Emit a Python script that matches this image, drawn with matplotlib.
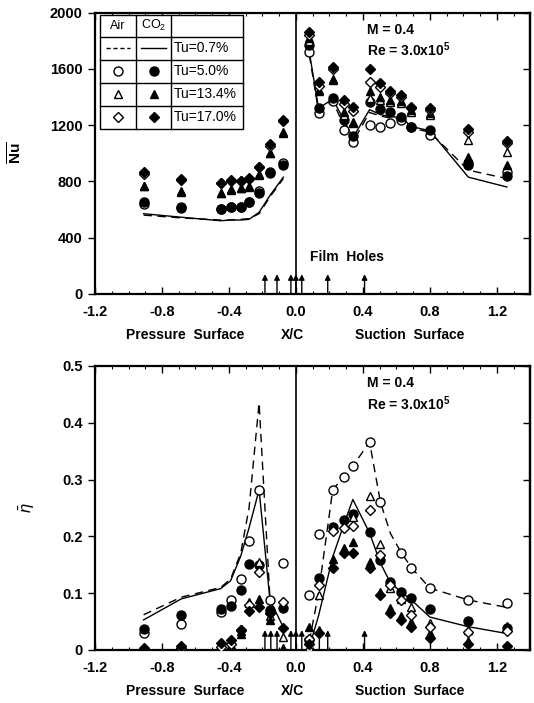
import numpy as np
import matplotlib
matplotlib.use('Agg')
import matplotlib.pyplot as plt
from matplotlib.ticker import MultipleLocator

plt.rcParams['font.family'] = ['Liberation Sans', 'DejaVu Sans']
plt.rcParams['mathtext.fontset'] = 'custom'
plt.rcParams['mathtext.rm'] = 'Liberation Sans'
plt.rcParams['mathtext.bf'] = 'Liberation Sans:bold'
plt.rcParams['mathtext.it'] = 'Liberation Sans:italic'

# positions des points de mesure (X/C)
x_pres = [-0.91, -0.685, -0.45, -0.39, -0.33, -0.28, -0.22, -0.155, -0.075]
x_suct = [0.08, 0.135, 0.22, 0.285, 0.34, 0.44, 0.505, 0.565, 0.63, 0.69, 0.8, 1.03, 1.26]

# --- Nu moyen (haut) ---
nu_air_05_p = [640, 615, 600, 615, 615, 650, 730, 870, 930]
nu_co2_05_p = [650, 610, 600, 620, 620, 655, 720, 860, 915]
nu_air_134_p = [770, 735, 715, 745, 750, 760, 850, 1005, 1150]
nu_co2_134_p = [765, 725, 720, 740, 750, 765, 845, 1000, 1145]
nu_air_17_p = [855, 810, 785, 800, 800, 820, 900, 1050, 1230]
nu_co2_17_p = [865, 820, 790, 810, 805, 825, 905, 1065, 1240]
nu_air_07_p = [560, 540, 525, 525, 530, 535, 570, 690, 820]
nu_co2_07_p = [570, 545, 520, 525, 525, 530, 580, 700, 830]

nu_air_05_s = [1720, 1285, 1370, 1165, 1080, 1200, 1190, 1215, 1235, 1185, 1130, 930, 870]
nu_co2_05_s = [1770, 1325, 1390, 1240, 1120, 1365, 1315, 1295, 1260, 1190, 1165, 915, 835]
nu_air_134_s = [1800, 1440, 1520, 1275, 1215, 1395, 1380, 1365, 1355, 1295, 1275, 1095, 1010]
nu_co2_134_s = [1820, 1450, 1530, 1290, 1225, 1440, 1400, 1380, 1370, 1305, 1285, 975, 920]
nu_air_17_s = [1840, 1480, 1600, 1350, 1300, 1510, 1470, 1430, 1400, 1320, 1310, 1150, 1075]
nu_co2_17_s = [1865, 1510, 1615, 1380, 1330, 1600, 1500, 1445, 1415, 1330, 1320, 1170, 1090]
nu_air_07_s = [1700, 1300, 1370, 1200, 1080, 1290, 1265, 1250, 1245, 1180, 1150, 880, 820]
nu_co2_07_s = [1720, 1320, 1385, 1240, 1110, 1310, 1275, 1260, 1255, 1190, 1160, 830, 760]

# --- efficacite (bas) ---
eta_air_05_p = [0.030, 0.046, 0.067, 0.088, 0.125, 0.192, 0.282, 0.088, 0.153]
eta_co2_05_p = [0.037, 0.062, 0.073, 0.078, 0.106, 0.151, 0.150, 0.070, 0.074]
eta_air_134_p = [0.002, 0.003, 0.005, 0.008, 0.033, 0.083, 0.155, 0.060, 0.023]
eta_co2_134_p = [0.003, 0.003, 0.005, 0.008, 0.028, 0.085, 0.090, 0.053, 0.003]
eta_air_17_p = [0.002, 0.004, 0.006, 0.010, 0.036, 0.080, 0.137, 0.065, 0.085]
eta_co2_17_p = [0.004, 0.007, 0.012, 0.017, 0.036, 0.069, 0.075, 0.065, 0.039]
eta_air_07_p = [0.062, 0.093, 0.110, 0.125, 0.170, 0.250, 0.435, 0.090, np.nan]
eta_co2_07_p = [0.053, 0.090, 0.108, 0.122, 0.165, 0.215, 0.282, 0.088, 0.040]

eta_air_05_s = [0.097, 0.204, 0.282, 0.305, 0.324, 0.366, 0.260, np.nan, 0.171, 0.145, 0.109, 0.088, 0.083]
eta_co2_05_s = [0.018, 0.126, 0.217, 0.229, 0.240, 0.208, 0.158, 0.120, 0.102, 0.091, 0.072, 0.051, 0.038]
eta_air_134_s = [0.005, 0.097, 0.215, 0.220, 0.235, 0.271, 0.187, 0.110, 0.090, 0.076, 0.047, 0.035, 0.038]
eta_co2_134_s = [0.040, 0.035, 0.160, 0.180, 0.190, 0.155, 0.102, 0.074, 0.060, 0.050, 0.030, 0.015, 0.042]
eta_air_17_s = [0.020, 0.114, 0.210, 0.215, 0.218, 0.246, 0.167, 0.114, 0.088, 0.062, 0.041, 0.032, 0.033]
eta_co2_17_s = [0.010, 0.030, 0.144, 0.170, 0.170, 0.144, 0.097, 0.065, 0.053, 0.041, 0.021, 0.010, 0.007]
eta_air_07_s = [0.015, 0.100, 0.282, 0.305, 0.324, 0.366, 0.260, 0.205, 0.171, 0.145, 0.109, 0.088, 0.075]
eta_co2_07_s = [0.005, 0.060, 0.164, 0.220, 0.265, 0.206, 0.153, 0.118, 0.102, 0.088, 0.058, 0.041, 0.029]

# trous de film
holes_top = [-0.185, -0.113, -0.03, 0.0, 0.035, 0.19, 0.41]
holes_bot = [-0.185, -0.15, -0.113, -0.03, 0.0, 0.035, 0.14, 0.19, 0.41]

x_ticks = [-1.2, -0.8, -0.4, 0.0, 0.4, 0.8, 1.2]
x_ticklabels = ['-1.2', '-0.8', '-0.4', '0.0', '0.4', '0.8', '1.2']

series_style = [  # (marker, rempli)
    ('o', False), ('o', True), ('^', False), ('^', True), ('D', False), ('D', True)]
msize = {'o': 6.5, '^': 6.0, 'D': 5.0}


def draw_points(ax, xs, sets):
    for (m, filled), ys in zip(series_style, sets):
        ax.plot(xs, ys, ls='none', marker=m, ms=msize[m], mew=1,
                mfc='black' if filled else 'white', mec='black', zorder=4)


def style_axes(ax, ylim, yticks, yticklabels, hole_len, holes):
    ax.set_xlim(-1.2, 1.4)
    ax.set_ylim(*ylim)
    ax.axvline(0, color='black', lw=1.2, zorder=2)
    for s in ax.spines.values():
        s.set_linewidth(1.6)
    ax.set_xticks(x_ticks)
    ax.set_xticklabels(x_ticklabels, fontsize=10.5, fontweight='bold')
    ax.set_yticks(yticks)
    ax.set_yticklabels(yticklabels, fontsize=10.5, fontweight='bold')
    ax.xaxis.set_minor_locator(MultipleLocator(0.1))
    ax.tick_params(axis='x', which='major', direction='in', top=True, length=5, width=1, pad=8)
    ax.tick_params(axis='x', which='minor', direction='in', top=True, length=2, width=0.8)
    ax.tick_params(axis='y', which='major', direction='out', length=5, width=1, pad=4)
    sec = ax.secondary_yaxis('right')
    sec.set_yticks(yticks)
    sec.tick_params(direction='in', length=5, width=1, labelright=False)
    sec.spines['right'].set_linewidth(1.6)
    for h in holes:
        ax.annotate('', xy=(h, hole_len), xytext=(h, 0),
                    arrowprops=dict(arrowstyle='-|>', color='black', lw=1, mutation_scale=8,
                                    shrinkA=0, shrinkB=0), zorder=5)
    tr = ax.get_xaxis_transform()
    ax.text(-0.66, -0.12, 'Pressure  Surface', transform=tr, ha='center', va='top',
            fontsize=10, fontweight='bold')
    ax.text(-0.02, -0.12, 'X/C', transform=tr, ha='center', va='top', fontsize=10, fontweight='bold')
    ax.text(0.68, -0.12, 'Suction  Surface', transform=tr, ha='center', va='top',
            fontsize=10, fontweight='bold')
    ax.text(0.625, 0.94, 'M = 0.4', transform=ax.transAxes, fontsize=10, fontweight='bold', va='center')
    ax.text(0.625, 0.868, r'Re = 3.0x10$^{\mathbf{5}}$', transform=ax.transAxes, fontsize=10,
            fontweight='bold', va='center')


def draw_legend(ax):
    t = ax.transAxes
    xl, x1, x2, xr = 0.0115, 0.094, 0.175, 0.340
    rows = [0.993, 0.915, 0.833, 0.751, 0.669, 0.587]
    kw = dict(color='black', lw=1, transform=t, clip_on=False, zorder=6)
    ax.add_patch(plt.Rectangle((xl, rows[-1]), xr - xl, rows[0] - rows[-1], facecolor='white',
                               edgecolor='black', lw=1, transform=t, zorder=5))
    for r in rows[1:-1]:
        ax.plot([xl, xr], [r, r], **kw)
    ax.plot([x1, x1], [rows[0], rows[-1]], **kw)
    ax.plot([x2, x2], [rows[0], rows[-1]], **kw)
    cy = [(rows[i] + rows[i + 1]) / 2 for i in range(5)]
    ca, cc = (xl + x1) / 2, (x1 + x2) / 2
    ax.text(ca, cy[0], 'Air', transform=t, ha='center', va='center', fontsize=9, zorder=7)
    ax.text(cc, cy[0], 'CO$_2$', transform=t, ha='center', va='center', fontsize=9, zorder=7)
    ax.plot([ca - 0.028, ca + 0.028], [cy[1], cy[1]], ls=(0, (3, 2)), **kw)
    ax.plot([cc - 0.028, cc + 0.028], [cy[1], cy[1]], **kw)
    labels = ['Tu=0.7%', 'Tu=5.0%', 'Tu=13.4%', 'Tu=17.0%']
    for i, lab in enumerate(labels):
        ax.text(x2 + 0.006, cy[i + 1], lab, transform=t, ha='left', va='center', fontsize=10, zorder=7)
    for i, m in enumerate(['o', '^', 'D']):
        ax.plot([ca], [cy[i + 2]], marker=m, ms=msize[m], mfc='white', mec='black', mew=1,
                transform=t, clip_on=False, zorder=7)
        ax.plot([cc], [cy[i + 2]], marker=m, ms=msize[m], mfc='black', mec='black', mew=1,
                transform=t, clip_on=False, zorder=7)


fig = plt.figure(figsize=(5.34, 7.03), dpi=100)
ax1 = fig.add_axes([0.178, 0.582, 0.815, 0.400])
ax2 = fig.add_axes([0.178, 0.0754, 0.815, 0.404])

# haut : Nu
ax1.plot(x_pres, nu_air_07_p, color='black', lw=1, ls=(0, (6, 4)), zorder=3)
ax1.plot(x_suct, nu_air_07_s, color='black', lw=1, ls=(0, (6, 4)), zorder=3)
ax1.plot(x_pres, nu_co2_07_p, color='black', lw=1, zorder=3)
ax1.plot(x_suct, nu_co2_07_s, color='black', lw=1, zorder=3)
draw_points(ax1, x_pres, [nu_air_05_p, nu_co2_05_p, nu_air_134_p, nu_co2_134_p, nu_air_17_p, nu_co2_17_p])
draw_points(ax1, x_suct, [nu_air_05_s, nu_co2_05_s, nu_air_134_s, nu_co2_134_s, nu_air_17_s, nu_co2_17_s])
style_axes(ax1, (0, 2000), [0, 400, 800, 1200, 1600, 2000],
           ['0', '400', '800', '1200', '1600', '2000'], 140, holes_top)
ax1.text(0.494, 0.13, 'Film  Holes', transform=ax1.transAxes, fontsize=10, fontweight='bold', va='center')
ax1.set_ylabel(r'$\overline{\mathbf{Nu}}$', fontsize=11, labelpad=18)
draw_legend(ax1)

# bas : efficacite
ax2.plot(x_pres, eta_air_07_p, color='black', lw=1, ls=(0, (6, 4)), zorder=3)
ax2.plot(x_suct, eta_air_07_s, color='black', lw=1, ls=(0, (6, 4)), zorder=3)
ax2.plot(x_pres, eta_co2_07_p, color='black', lw=1, zorder=3)
ax2.plot(x_suct, eta_co2_07_s, color='black', lw=1, zorder=3)
draw_points(ax2, x_pres, [eta_air_05_p, eta_co2_05_p, eta_air_134_p, eta_co2_134_p, eta_air_17_p, eta_co2_17_p])
draw_points(ax2, x_suct, [eta_air_05_s, eta_co2_05_s, eta_air_134_s, eta_co2_134_s, eta_air_17_s, eta_co2_17_s])
style_axes(ax2, (0, 0.5), [0, 0.1, 0.2, 0.3, 0.4, 0.5],
           ['0', '0.1', '0.2', '0.3', '0.4', '0.5'], 0.035, holes_bot)
ax2.set_ylabel(r'$\bar{\eta}$', fontsize=12, labelpad=18)

fig.savefig('out.png', dpi=100)
